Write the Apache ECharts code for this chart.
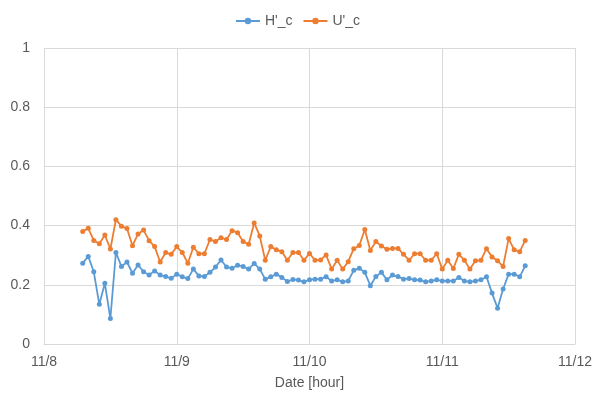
<!DOCTYPE html>
<html>
<head>
<meta charset="utf-8">
<script src="https://cdn.jsdelivr.net/npm/echarts@6/dist/echarts.min.js"></script>
<style>
  html, body { margin: 0; padding: 0; background: #fff; }
  #chart { width: 595px; height: 395px; }
</style>
</head>
<body>
<div id="chart"></div>
<script>
// Hourly readings from 11/8 07:00 to 11/11 15:00
const startHour = '2020-11-08T07:00:00Z';
const seriesNames = ["H'_c", "U'_c"];

const hValues = [
  0.273, 0.296, 0.244, 0.134, 0.205, 0.086, 0.309, 0.262, 0.277, 0.239,
  0.267, 0.244, 0.233, 0.247, 0.233, 0.228, 0.222, 0.236, 0.227, 0.221,
  0.253, 0.230, 0.228, 0.242, 0.260, 0.284, 0.260, 0.256, 0.266, 0.262,
  0.253, 0.272, 0.253, 0.219, 0.227, 0.236, 0.225, 0.211, 0.218, 0.216,
  0.210, 0.217, 0.219, 0.219, 0.227, 0.213, 0.217, 0.210, 0.213, 0.249,
  0.256, 0.242, 0.197, 0.228, 0.242, 0.217, 0.233, 0.228, 0.219, 0.221,
  0.217, 0.216, 0.210, 0.213, 0.217, 0.213, 0.213, 0.213, 0.225, 0.213,
  0.210, 0.213, 0.217, 0.227, 0.172, 0.121, 0.186, 0.236, 0.236, 0.227,
  0.264
];

const uValues = [
  0.380, 0.391, 0.350, 0.339, 0.368, 0.321, 0.420, 0.398, 0.390, 0.332,
  0.372, 0.385, 0.349, 0.329, 0.277, 0.309, 0.303, 0.329, 0.309, 0.273,
  0.327, 0.305, 0.305, 0.353, 0.346, 0.359, 0.353, 0.383, 0.376, 0.346,
  0.337, 0.409, 0.365, 0.283, 0.329, 0.318, 0.312, 0.283, 0.309, 0.309,
  0.283, 0.306, 0.283, 0.284, 0.301, 0.253, 0.283, 0.253, 0.278, 0.322,
  0.333, 0.387, 0.316, 0.346, 0.331, 0.320, 0.323, 0.323, 0.303, 0.283,
  0.305, 0.305, 0.283, 0.283, 0.305, 0.253, 0.283, 0.255, 0.303, 0.283,
  0.253, 0.281, 0.283, 0.322, 0.294, 0.281, 0.262, 0.356, 0.318, 0.312,
  0.350
];

const xMin = '2020-11-08T00:00:00Z';
const xMax = '2020-11-12T00:00:00Z';
const yTicks = [0, 0.2, 0.4, 0.6, 0.8, 1];

const HOUR = 3600 * 1000;
const t0 = Date.parse(startHour);
const times = hValues.map((_, i) => t0 + i * HOUR);
const pair = (vals) => vals.map((v, i) => [times[i], v]);

const textColor = '#595959';
const gridColor = '#d9d9d9';
const font = 'Liberation Sans';

const chart = echarts.init(document.getElementById('chart'), null, { renderer: 'canvas' });

chart.setOption({
  animation: false,
  useUTC: true,
  color: ['#5b9bd5', '#ed7d31'],
  textStyle: { fontFamily: font, color: textColor },
  legend: {
    top: 9,
    left: 'center',
    itemWidth: 24,
    itemHeight: 8,
    itemGap: 10,
    textStyle: { fontFamily: font, fontSize: 14, color: textColor },
    data: seriesNames
  },
  grid: { left: 44, right: 20, top: 48, bottom: 50, containLabel: false },
  xAxis: {
    type: 'time',
    min: Date.parse(xMin),
    max: Date.parse(xMax),
    interval: 24 * HOUR,
    name: 'Date [hour]',
    nameLocation: 'middle',
    nameGap: 32,
    nameTextStyle: { fontFamily: font, fontSize: 14, color: textColor },
    axisLine: { lineStyle: { color: gridColor, width: 1 } },
    axisTick: { show: false },
    splitLine: { show: true, lineStyle: { color: gridColor, width: 1 } },
    axisLabel: {
      fontFamily: font,
      fontSize: 14,
      color: textColor,
      margin: 11,
      showMinLabel: true,
      showMaxLabel: true,
      formatter: (v) => {
        const d = new Date(v);
        return (d.getUTCMonth() + 1) + '/' + d.getUTCDate();
      }
    }
  },
  yAxis: {
    type: 'value',
    min: yTicks[0],
    max: yTicks[yTicks.length - 1],
    interval: 0.2,
    axisLine: { show: false },
    axisTick: { show: false },
    splitLine: { lineStyle: { color: gridColor, width: 1 } },
    axisLabel: {
      fontFamily: font,
      fontSize: 14,
      color: textColor,
      margin: 14,
      formatter: (v) => String(Math.round(v * 10) / 10)
    }
  },
  series: [
    {
      name: seriesNames[0],
      type: 'line',
      data: pair(hValues),
      symbol: 'circle',
      symbolSize: 5,
      lineStyle: { width: 1.8 },
      z: 3
    },
    {
      name: seriesNames[1],
      type: 'line',
      data: pair(uValues),
      symbol: 'circle',
      symbolSize: 5,
      lineStyle: { width: 1.8 },
      z: 2
    }
  ]
});
</script>
</body>
</html>
